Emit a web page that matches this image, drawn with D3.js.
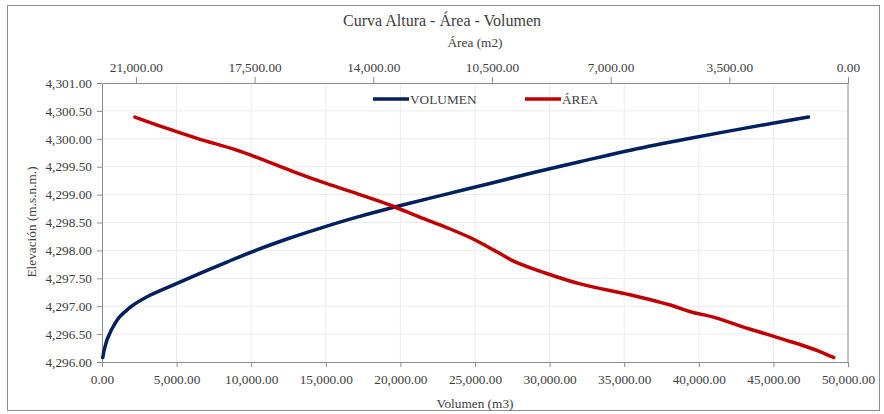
<!DOCTYPE html>
<html>
<head>
<meta charset="utf-8">
<script src="https://cdn.jsdelivr.net/npm/d3@7"></script>
<style>
  body { margin: 0; background: #fff; }
  text { font-family: "Liberation Serif", "Times New Roman", serif; fill: #404040; }
</style>
</head>
<body>
<script>
// curve data: elevation (m.s.n.m.), volume (m3), area (m2)
const elevations = [4296.08, 4296.1, 4296.2, 4296.3, 4296.4, 4296.5, 4296.6, 4296.8, 4296.9, 4297.0, 4297.2,
  4297.4, 4297.6, 4297.8, 4298.0, 4298.2, 4298.4, 4298.6, 4298.8, 4299.0, 4299.2,
  4299.4, 4299.6, 4299.8, 4300.0, 4300.2, 4300.39]
const volumes = [50, 67, 130, 230, 340, 500, 680, 1150, 1540, 1980, 3250,
  4950, 6680, 8450, 10300, 12350, 14650, 17150, 19950, 22950, 26000,
  29000, 32200, 35500, 39250, 43300, 47350]
const areas = [420, 500, 880, 1350, 1880, 2400, 2950, 3950, 4650, 5130, 6400,
  7900, 8950, 9830, 10430, 11040, 11800, 12650, 13450, 14400, 15390,
  16300, 17150, 18050, 19150, 20150, 21030]

const volumeTicks = [0, 5000, 10000, 15000, 20000, 25000, 30000, 35000, 40000, 45000, 50000]
const areaTicks = [21000, 17500, 14000, 10500, 7000, 3500, 0]
const elevTicks = [4296, 4296.5, 4297, 4297.5, 4298, 4298.5, 4299, 4299.5, 4300, 4300.5, 4301]

const w = 884
const h = 414
const blue = '#002060'
const red = '#c00000'
const axisGrey = '#8c8c8c'

const svg = d3.select('body').append('svg')
  .attr('width', w)
  .attr('height', h)

// chart frame
svg.append('rect')
  .attr('x', 7.5).attr('y', 5.5)
  .attr('width', 872).attr('height', 405)
  .attr('fill', '#fff')
  .attr('stroke', '#8c8c8c')

const x = d3.scaleLinear().domain([0, 50000]).range([102, 848])
const xArea = d3.scaleLinear().domain([22000, 0]).range([102, 848])
const y = d3.scaleLinear().domain([4296, 4301]).range([362, 83])
const fmt = d3.format(',.2f')

// gridlines
svg.append('g').selectAll('line')
  .data(elevTicks.slice(1, -1))
  .enter().append('line')
  .attr('x1', x(0)).attr('x2', x(50000))
  .attr('y1', d => y(d)).attr('y2', d => y(d))
  .attr('stroke', '#ececec')

svg.append('g').selectAll('line')
  .data(volumeTicks.slice(1, -1))
  .enter().append('line')
  .attr('x1', d => x(d)).attr('x2', d => x(d))
  .attr('y1', y(4301)).attr('y2', y(4296))
  .attr('stroke', '#ececec')

// right edge of plot
svg.append('line')
  .attr('x1', x(50000)).attr('x2', x(50000))
  .attr('y1', y(4301)).attr('y2', y(4296))
  .attr('stroke', axisGrey)

const styleAxis = g => {
  g.attr('font-family', '"Liberation Serif", serif')
  g.selectAll('path').attr('stroke', axisGrey)
  g.selectAll('line').attr('stroke', axisGrey)
  g.selectAll('text')
    .style('font-family', '"Liberation Serif", serif')
    .style('font-size', '13.3px')
    .attr('fill', '#404040')
}

svg.append('g')
  .attr('transform', `translate(0,${y(4296)})`)
  .call(d3.axisBottom(x).tickValues(volumeTicks).tickFormat(fmt).tickSize(5).tickSizeOuter(0).tickPadding(8))
  .call(styleAxis)

svg.append('g')
  .attr('transform', `translate(0,${y(4301)})`)
  .call(d3.axisTop(xArea).tickValues(areaTicks).tickFormat(fmt).tickSize(6).tickSizeOuter(0).tickPadding(5))
  .call(styleAxis)

svg.append('g')
  .attr('transform', `translate(${x(0)},0)`)
  .call(d3.axisLeft(y).tickValues(elevTicks).tickFormat(fmt).tickSize(5).tickSizeOuter(0).tickPadding(5))
  .call(styleAxis)

// curves
const rows = elevations.map((e, i) => ({ elev: e, vol: volumes[i], area: areas[i] }))

const volLine = d3.line()
  .x(d => x(d.vol))
  .y(d => y(d.elev))
  .curve(d3.curveCatmullRom)

const areaLine = d3.line()
  .x(d => xArea(d.area))
  .y(d => y(d.elev))
  .curve(d3.curveCatmullRom)

svg.append('path')
  .attr('d', volLine(rows))
  .attr('fill', 'none')
  .attr('stroke', blue)
  .attr('stroke-width', 3.5)
  .attr('stroke-linecap', 'round')

svg.append('path')
  .attr('d', areaLine(rows))
  .attr('fill', 'none')
  .attr('stroke', red)
  .attr('stroke-width', 3.5)
  .attr('stroke-linecap', 'round')

// titles
svg.append('text')
  .attr('x', 442).attr('y', 26)
  .attr('text-anchor', 'middle')
  .style('font-size', '16px')
  .text('Curva Altura - Área - Volumen')

svg.append('text')
  .attr('x', 475).attr('y', 47)
  .attr('text-anchor', 'middle')
  .style('font-size', '13.3px')
  .text('Área (m2)')

svg.append('text')
  .attr('x', 475).attr('y', 408)
  .attr('text-anchor', 'middle')
  .style('font-size', '13.3px')
  .text('Volumen (m3)')

svg.append('text')
  .attr('transform', 'translate(36,222) rotate(-90)')
  .attr('text-anchor', 'middle')
  .style('font-size', '13.3px')
  .text('Elevación (m.s.n.m.)')

// legend
const legend = [
  { name: 'VOLUMEN', color: blue, x: 373 },
  { name: 'ÁREA', color: red, x: 525 }
]
const lg = svg.append('g').selectAll('g')
  .data(legend)
  .enter().append('g')
  .attr('transform', d => `translate(${d.x},99)`)

lg.append('line')
  .attr('x1', 0).attr('x2', 36)
  .attr('stroke', d => d.color)
  .attr('stroke-width', 3.5)

lg.append('text')
  .attr('x', 37).attr('y', 5)
  .style('font-size', '13.3px')
  .text(d => d.name)
</script>
</body>
</html>
